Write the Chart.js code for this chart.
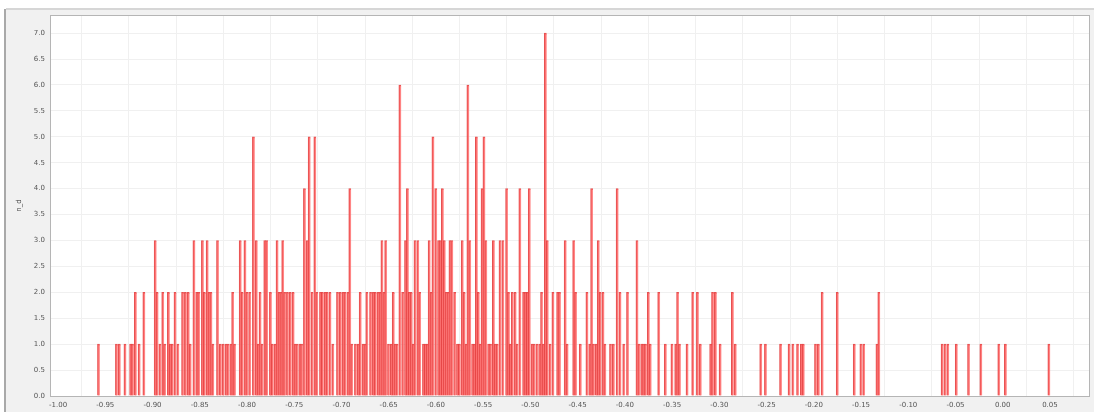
<!DOCTYPE html>
<html>
<head>
<meta charset="utf-8">
<script src="https://cdn.jsdelivr.net/npm/chart.js@4/dist/chart.umd.min.js"></script>
<style>
    html, body { margin: 0; padding: 0; background: #ffffff; }
    #wrap { width: 1094px; height: 412px; position: relative; }
</style>
</head>
<body>
<div id="wrap"><canvas id="histChart"></canvas></div>
<script>
// Bin positions (x value of each bar)
const binX = [
    -0.957, -0.938, -0.935, -0.929, -0.923, -0.921, -0.918, -0.914, -0.909,
    -0.897, -0.895, -0.892, -0.889, -0.887, -0.883, -0.881, -0.879, -0.876, -0.873,
    -0.868, -0.865, -0.862, -0.860, -0.856, -0.853, -0.851, -0.847, -0.845, -0.842,
    -0.840, -0.838, -0.836, -0.831, -0.828, -0.825, -0.822, -0.820,
    -0.817, -0.815, -0.813, -0.807, -0.805, -0.802, -0.800, -0.797, -0.793, -0.790,
    -0.788, -0.786, -0.784, -0.781, -0.779, -0.775, -0.773, -0.770, -0.768, -0.766,
    -0.764, -0.762, -0.760, -0.757, -0.754, -0.751, -0.749, -0.747, -0.744, -0.742,
    -0.739, -0.736, -0.734, -0.731, -0.728, -0.726, -0.722, -0.720, -0.717, -0.715,
    -0.712, -0.709, -0.704, -0.701, -0.698, -0.696, -0.693, -0.691, -0.689, -0.685,
    -0.682, -0.680, -0.677, -0.675, -0.673, -0.669, -0.666, -0.664, -0.661, -0.659,
    -0.657, -0.655, -0.653, -0.650, -0.647, -0.645, -0.643, -0.641, -0.638, -0.635,
    -0.632, -0.630, -0.628,
    -0.626, -0.624, -0.622, -0.619, -0.617, -0.613, -0.611, -0.609, -0.607, -0.605,
    -0.603, -0.600, -0.597, -0.595, -0.593, -0.591, -0.589, -0.587, -0.585, -0.583,
    -0.580, -0.577, -0.575, -0.572, -0.570, -0.568, -0.566, -0.564, -0.561, -0.559,
    -0.557, -0.555, -0.553, -0.551, -0.549, -0.547, -0.544, -0.542, -0.539, -0.537,
    -0.535, -0.532, -0.529, -0.525, -0.523, -0.521, -0.519, -0.516, -0.514, -0.511,
    -0.507, -0.505, -0.503, -0.501, -0.498, -0.496, -0.493, -0.490, -0.488, -0.486,
    -0.484, -0.482, -0.479, -0.476, -0.471, -0.469, -0.463, -0.461, -0.454, -0.452,
    -0.447, -0.440, -0.437,
    -0.435, -0.433, -0.430, -0.428, -0.426, -0.423, -0.421, -0.415, -0.412, -0.408,
    -0.405, -0.401, -0.397, -0.387, -0.385, -0.382, -0.380, -0.378, -0.375, -0.373,
    -0.364, -0.357, -0.350, -0.346, -0.344, -0.342, -0.334, -0.328, -0.323, -0.320,
    -0.309, -0.307, -0.304, -0.299, -0.286, -0.283, -0.256, -0.251,
    -0.235, -0.226, -0.222, -0.217, -0.213, -0.211, -0.198, -0.195, -0.191, -0.175,
    -0.157, -0.150, -0.147, -0.133, -0.131, -0.064, -0.061, -0.058, -0.049, -0.036,
    -0.023, -0.004, 0.003, 0.049
];

// Count in each bin, same order as binX
const counts = [
    1, 1, 1, 1, 1, 1, 2, 1, 2,
    3, 2, 1, 2, 1, 2, 1, 1, 2, 1,
    2, 2, 2, 1, 3, 2, 2, 3, 2, 3,
    2, 2, 1, 3, 1, 1, 1, 1,
    1, 2, 1, 3, 2, 3, 2, 2, 5, 3,
    1, 2, 1, 3, 3, 2, 1, 1, 3, 2,
    2, 3, 2, 2, 2, 2, 1, 1, 1, 1,
    4, 3, 5, 2, 5, 2, 2, 2, 2, 2,
    2, 1, 2, 2, 2, 2, 2, 4, 1, 1,
    1, 2, 1, 1, 2, 2, 2, 2, 2, 2,
    3, 2, 3, 1, 1, 2, 1, 1, 6, 2,
    3, 4, 2,
    2, 1, 3, 3, 2, 1, 1, 1, 3, 2,
    5, 4, 3, 3, 4, 3, 2, 2, 3, 3,
    2, 1, 1, 3, 2, 1, 6, 3, 1, 1,
    5, 2, 1, 4, 5, 3, 1, 1, 3, 1,
    1, 3, 3, 4, 2, 1, 2, 2, 1, 4,
    2, 2, 2, 4, 1, 1, 1, 1, 2, 1,
    7, 3, 1, 2, 2, 2, 3, 1, 3, 2,
    1, 2, 1,
    4, 1, 1, 3, 2, 2, 1, 1, 1, 4,
    2, 1, 2, 3, 1, 1, 1, 1, 2, 1,
    2, 1, 1, 1, 2, 1, 1, 2, 2, 1,
    1, 2, 2, 1, 2, 1, 1, 1,
    1, 1, 1, 1, 1, 1, 1, 1, 2, 2,
    1, 1, 1, 1, 2, 1, 1, 1, 1, 1,
    1, 1, 1, 1
];

const xTicks = [-1.00, -0.95, -0.90, -0.85, -0.80, -0.75, -0.70, -0.65, -0.60, -0.55, -0.50,
    -0.45, -0.40, -0.35, -0.30, -0.25, -0.20, -0.15, -0.10, -0.05, 0.00, 0.05];
const yTicks = [0, 0.5, 1, 1.5, 2, 2.5, 3, 3.5, 4, 4.5, 5, 5.5, 6, 6.5, 7];
const yTitle = 'n_d';

// Grey panel behind the axes, white plot area with a thin frame
const panelPlugin = {
    id: 'panel',
    beforeDraw(chart) {
        const { ctx, chartArea: a, width, height } = chart;
        ctx.save();
        ctx.fillStyle = '#ffffff';
        ctx.fillRect(0, 0, width, height);
        ctx.fillStyle = '#f1f1f1';
        ctx.fillRect(6, 9, width - 6, height - 9);
        ctx.fillStyle = '#a9a9a9';
        ctx.fillRect(4, 9, 2, height - 9);
        ctx.fillStyle = '#d6d6d6';
        ctx.fillRect(6, 8, width - 6, 2);
        ctx.fillStyle = '#ffffff';
        ctx.fillRect(a.left, a.top, a.right - a.left, a.bottom - a.top);
        ctx.restore();
    },
    afterDraw(chart) {
        const { ctx, chartArea: a } = chart;
        ctx.save();
        ctx.strokeStyle = '#b5b5b5';
        ctx.lineWidth = 1;
        ctx.strokeRect(a.left + 0.5, a.top + 0.5, a.right - a.left - 1, a.bottom - a.top);
        ctx.restore();
    }
};

const tickFont = { family: 'DejaVu Sans', size: 7 };

new Chart(document.getElementById('histChart'), {
    type: 'bar',
    data: {
        datasets: [{
            data: binX.map((x, i) => ({ x: x, y: counts[i] })),
            backgroundColor: 'rgba(255, 105, 105, 0.8)',
            borderColor: 'rgba(228, 62, 62, 0.9)',
            borderWidth: { left: 1, right: 0, top: 1, bottom: 0 },
            borderSkipped: false,
            barThickness: 2.4
        }]
    },
    options: {
        responsive: true,
        maintainAspectRatio: false,
        animation: false,
        layout: { padding: { left: 13, right: 4, top: 15, bottom: 0 } },
        plugins: {
            legend: { display: false },
            tooltip: { enabled: false }
        },
        scales: {
            x: {
                type: 'linear',
                min: -1.0085,
                max: 0.0924,
                offset: false,
                grid: { color: '#f0f0f0', drawTicks: false },
                border: { display: false },
                afterBuildTicks: (s) => { s.ticks = xTicks.map(v => ({ value: v })); },
                afterFit: (s) => { s.height = 16; },
                ticks: {
                    autoSkip: false,
                    maxRotation: 0,
                    padding: 5,
                    color: '#555',
                    font: tickFont,
                    callback: (v) => Number(v).toFixed(2)
                }
            },
            y: {
                min: 0,
                max: 7.35,
                grid: { color: '#f0f0f0', drawTicks: false },
                border: { display: false },
                afterBuildTicks: (s) => { s.ticks = yTicks.map(v => ({ value: v })); },
                afterFit: (s) => { s.width = 37; },
                title: {
                    display: true,
                    text: yTitle,
                    color: '#444',
                    font: { family: 'DejaVu Sans', size: 7 },
                    padding: 2
                },
                ticks: {
                    padding: 5,
                    color: '#555',
                    font: tickFont,
                    callback: (v) => Number(v).toFixed(1)
                }
            }
        }
    },
    plugins: [panelPlugin]
});
</script>
</body>
</html>
